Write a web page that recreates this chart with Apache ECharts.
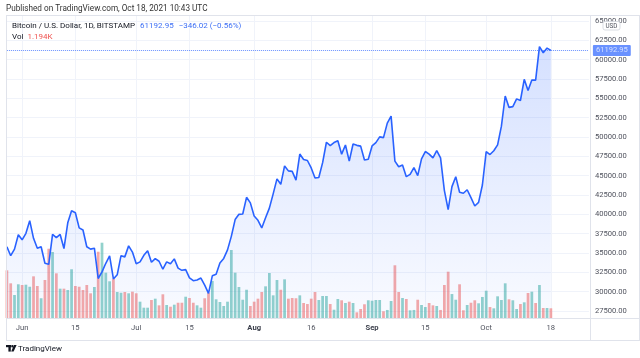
<!DOCTYPE html>
<html><head><meta charset="utf-8">
<script src="https://cdn.jsdelivr.net/npm/echarts@6/dist/echarts.min.js"></script>
<style>html,body{margin:0;padding:0;background:#fff}#c{width:640px;height:358px}</style>
</head><body><div id="c"></div>
<script>
// ---------- data ----------
const startDate = '2021-05-28';
const dayCount = 154; // 144 daily bars + empty space on the right

const closes = [
 35810,34650,35500,37350,36700,37550,39180,36900,35610,35810,
 33670,33540,37420,36980,37400,35580,38900,40470,40210,38250,
 37970,35810,35500,35620,31700,32550,33670,34620,31640,32180,
 34650,34500,35920,35120,33620,33850,34700,35290,33800,34280,
 33930,32900,33850,33600,34240,33050,32760,32850,31790,31420,
 31520,31760,30840,29780,32050,32250,33720,34300,35400,37150,
 39320,40000,40040,42200,41480,39780,39230,38240,39550,40800,
 42650,44580,43880,46260,45620,45550,44430,47800,47100,46960,
 46000,44700,44760,46680,49320,48880,49280,49520,47780,48970,
 46880,49100,48920,48820,47020,47120,48840,49280,50020,49920,
 51800,52700,46880,46150,46380,44870,45170,46030,45000,47180,
 48120,47790,47300,48250,47290,43100,40600,43580,44870,42850,
 42730,43180,42150,41080,41540,43790,48120,47730,48230,48980,
 51400,55300,53830,53930,54930,54720,57460,56000,57380,57350,
 61680,60900,61500,61192.95
];
const volumes = [
 5870,4270,2830,4150,4060,4100,3850,5130,3940,2430,
 4680,8530,8130,5500,3610,3610,3450,6000,3940,3850,
 3450,4060,3040,3820,8160,9270,5580,4520,4840,3200,
 3110,3200,3040,3240,3040,2010,1270,1270,2220,2380,
 1560,2920,1600,1390,1640,1880,1880,2620,2460,1880,
 1560,1270,2430,3110,4560,2300,1970,1480,2010,8370,
 5580,3820,2250,3480,1480,2010,2380,3200,3900,5540,
 2790,4680,3480,4760,2380,2460,2430,2790,1850,1720,
 2380,3200,2220,2710,2710,1720,1020,2340,2180,1850,
 2010,1850,700,1110,1690,2180,2130,2220,2220,830,
 990,2090,6490,3200,2460,2340,950,990,2250,1600,
 1350,1850,1560,1480,990,4060,5700,2950,2250,4150,
 950,1600,1880,2180,1810,2590,3360,1350,1190,2670,
 2220,4270,2300,2180,1110,1720,1930,3080,3240,1850,
 4060,1230,1230,1194
];
const volumeUp = [
 0,0,1,1,0,1,1,0,0,1, 0,0,1,0,1,0,1,1,0,0, 0,0,0,1,0,1,1,1,0,1,
 1,0,1,0,0,1,1,1,0,1, 0,0,1,0,1,0,0,1,0,0, 1,1,0,0,1,1,1,1,1,1,
 1,1,1,1,0,0,0,0,1,1, 1,1,0,1,0,0,0,1,0,0, 0,0,1,1,1,0,1,1,0,1,
 0,1,0,0,0,1,1,1,1,0, 1,1,0,0,1,0,1,1,0,1, 1,0,0,1,0,0,0,1,1,0,
 0,1,0,0,1,1,1,0,1,1, 1,1,0,1,1,0,1,0,1,0, 1,0,1,0
];
const tickDates = ['2021-06-01','2021-06-15','2021-07-01','2021-07-15','2021-08-01','2021-08-16','2021-09-01','2021-09-15','2021-10-01','2021-10-18'];
const tickTexts = ['Jun','15','Jul','15','Aug','16','Sep','15','Oct','18'];
const boldTicks = ['Aug','Sep'];
const priceMin = 27500, priceMax = 65000, priceStep = 2500;
const lastPrice = 61192.95;
const headerTitle = 'Bitcoin / U.S. Dollar, 1D, BITSTAMP';
const headerPrice = '61192.95';
const headerChange = '\u2212346.02 (\u22120.56%)';
const volText = '1.194K';

// ---------- build ----------
const dates = [];
{
  const d0 = new Date(startDate + 'T00:00:00Z');
  for (let i = 0; i < dayCount; i++) {
    const d = new Date(d0.getTime() + i * 86400000);
    dates.push(d.toISOString().slice(0, 10));
  }
}
const tickSet = new Set(tickDates.map(t => dates.indexOf(t)));

const FONT = 'Roboto, "Noto Sans", sans-serif';
const GRID_L = 6.9, GRID_W = 582;
// price pane: 65000 -> y 21, 27500 -> y 311; pane from y 15 to 318
const pxPer = 290 / (priceMax - priceMin);
const paneMin = priceMin - 7 / pxPer;
const paneMax = priceMax + 6 / pxPer;

const chart = echarts.init(document.getElementById('c'), null, {renderer: 'canvas'});
const lineCol = '#2962FF';
const border = '#e0e3eb';
const gridCol = '#f0f3fa';

chart.setOption({
  animation: false,
  backgroundColor: '#ffffff',
  grid: [
    {left: GRID_L, width: GRID_W, top: 15, height: 303},
    {left: GRID_L, width: GRID_W, top: 21, height: 290},
    {left: GRID_L, width: GRID_W, top: 238, height: 80}
  ],
  xAxis: [
    {
      type: 'category', gridIndex: 0, data: dates, boundaryGap: false,
      axisLine: {show: false}, axisTick: {show: false},
      axisLabel: {
        interval: (i) => tickSet.has(i), margin: 6,
        fontFamily: FONT, fontSize: 7.6, color: '#50535e',
        formatter: (v) => {
          const t = tickTexts[tickDates.indexOf(v)];
          return boldTicks.includes(t) ? '{b|' + t + '}' : t;
        },
        rich: {b: {fontWeight: 'bold', fontFamily: FONT, fontSize: 7.6, color: '#3a3e4a'}}
      },
      splitLine: {show: true, interval: (i) => tickSet.has(i), lineStyle: {color: gridCol, width: 1}}
    },
    {type: 'category', gridIndex: 1, data: dates, boundaryGap: false, show: false},
    {type: 'category', gridIndex: 2, data: dates, boundaryGap: false, show: false}
  ],
  yAxis: [
    {type: 'value', gridIndex: 0, min: paneMin, max: paneMax, show: false, splitLine: {show: false}},
    {
      type: 'value', gridIndex: 1, position: 'right', min: priceMin, max: priceMax, interval: priceStep,
      axisLine: {show: false}, axisTick: {show: false},
      axisLabel: {
        margin: 6, fontFamily: FONT, fontSize: 7.6, color: '#50535e',
        formatter: (v) => v.toFixed(2)
      },
      splitLine: {show: true, lineStyle: {color: gridCol, width: 1}}
    },
    {type: 'value', gridIndex: 2, min: 0, max: 9850, show: false, splitLine: {show: false}}
  ],
  series: [
    {
      type: 'bar', xAxisIndex: 2, yAxisIndex: 2, z: 1,
      barWidth: '72%',
      data: volumes.map((v, i) => ({
        value: v,
        itemStyle: {color: volumeUp[i] ? 'rgba(38,166,154,0.5)' : 'rgba(239,83,80,0.5)'}
      }))
    },
    {
      type: 'line', xAxisIndex: 0, yAxisIndex: 0, z: 3,
      data: closes, showSymbol: false, symbol: 'none',
      lineStyle: {color: lineCol, width: 1.6},
      areaStyle: {
        origin: 'start',
        color: new echarts.graphic.LinearGradient(0, 0, 0, 1, [
          {offset: 0, color: 'rgba(41,98,255,0.28)'},
          {offset: 1, color: 'rgba(41,98,255,0.04)'}
        ])
      },
      markLine: {
        silent: true, symbol: ['none', 'none'], animation: false,
        lineStyle: {color: lineCol, type: 'dotted', width: 1, opacity: 0.7},
        label: {
          show: true, position: 'end', distance: 4,
          formatter: () => lastPrice.toFixed(2),
          backgroundColor: lineCol, color: '#fff', fontFamily: FONT, fontSize: 7.6,
          padding: [2, 3, 1, 3], borderRadius: 1
        },
        data: [{yAxis: lastPrice}]
      }
    }
  ],
  graphic: [
    // frame
    {type: 'line', shape: {x1: 6, y1: 15.5, x2: 640, y2: 15.5}, style: {stroke: border, lineWidth: 1}, z: 50},
    {type: 'line', shape: {x1: 6.5, y1: 15, x2: 6.5, y2: 341}, style: {stroke: border, lineWidth: 1}, z: 50},
    {type: 'line', shape: {x1: 6, y1: 318.5, x2: 640, y2: 318.5}, style: {stroke: border, lineWidth: 1}, z: 50},
    {type: 'line', shape: {x1: 6, y1: 340.5, x2: 640, y2: 340.5}, style: {stroke: border, lineWidth: 1}, z: 50},
    {type: 'line', shape: {x1: 590.5, y1: 15, x2: 590.5, y2: 341}, style: {stroke: border, lineWidth: 1}, z: 50},
    {type: 'line', shape: {x1: 639.5, y1: 15, x2: 639.5, y2: 341}, style: {stroke: border, lineWidth: 1}, z: 50},
    // headers
    {type: 'text', x: 6, y: 9, z: 60, style: {text: 'Published on TradingView.com, Oct 18, 2021 10:43 UTC', fontFamily: FONT, fontSize: 8.2, fill: '#333', verticalAlign: 'middle'}},
    {type: 'text', x: 12, y: 26, z: 60, style: {
      text: '{t|' + headerTitle + '}{p|' + headerPrice + '}{p|' + headerChange + '}',
      verticalAlign: 'middle',
      rich: {
        t: {fontFamily: FONT, fontSize: 8, fill: '#131722'},
        p: {fontFamily: FONT, fontSize: 8, fill: '#3d6ff5', padding: [0, 0, 0, 5]}
      }
    }},
    {type: 'text', x: 12, y: 36.5, z: 60, style: {
      text: '{t|Vol}{r|' + volText + '}',
      verticalAlign: 'middle',
      rich: {
        t: {fontFamily: FONT, fontSize: 8, fill: '#131722'},
        r: {fontFamily: FONT, fontSize: 8, fill: '#ef5350', padding: [0, 0, 0, 4]}
      }
    }},
    // USD badge
    {type: 'rect', z: 60, shape: {x: 603, y: 21.5, width: 17, height: 8.5, r: 2}, style: {fill: '#fff', stroke: '#d1d4dc', lineWidth: 0.8}},
    {type: 'text', x: 611.5, y: 26, z: 61, style: {text: 'USD', fontFamily: FONT, fontSize: 6.3, fill: '#50535e', align: 'center', verticalAlign: 'middle'}},
    // TradingView logo
    {type: 'rect', z: 60, shape: {x: 6, y: 345, width: 5.2, height: 2.2}, style: {fill: '#131722'}},
    {type: 'rect', z: 60, shape: {x: 8.4, y: 345, width: 2.4, height: 6.6}, style: {fill: '#131722'}},
    {type: 'circle', z: 60, shape: {cx: 12.4, cy: 346.2, r: 1.2}, style: {fill: '#131722'}},
    {type: 'polygon', z: 60, shape: {points: [[14, 345], [16.6, 345], [13.6, 351.6], [11.2, 351.6]]}, style: {fill: '#131722'}},
    {type: 'text', x: 18, y: 348.5, z: 60, style: {text: 'TradingView', fontFamily: FONT, fontSize: 8, fill: '#131722', verticalAlign: 'middle'}}
  ]
});
</script>
</body></html>
